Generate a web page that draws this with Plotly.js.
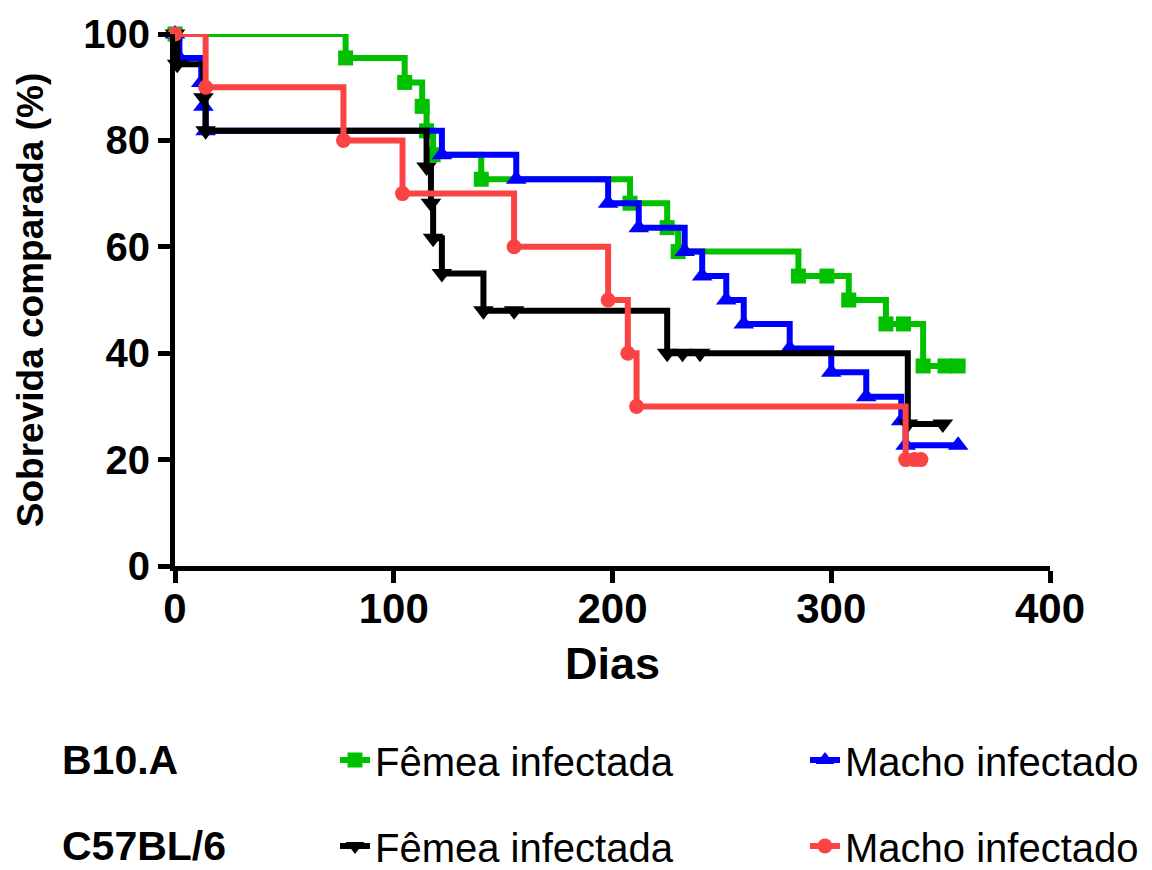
<!DOCTYPE html>
<html>
<head>
<meta charset="utf-8">
<script src="https://cdn.plot.ly/plotly-3.0.1.min.js"></script>
<style>html,body{margin:0;padding:0;background:#fff;}#chart{width:1152px;height:870px;}</style>
</head>
<body>
<div id="chart"></div>
<script>
// B10.A - Fêmea infectada
const greenDays = [0, 78, 105, 113, 115, 118, 140, 208, 225, 230, 285, 298, 308, 325, 333, 342, 352, 358];
const greenSurv = [100, 95.5, 90.9, 86.4, 81.8, 77.3, 72.7, 68.2, 63.6, 59.1, 54.5, 54.5, 50.0, 45.5, 45.5, 37.6, 37.6, 37.6];
// B10.A - Macho infectado
const blueDays = [0, 2, 12, 13, 14, 122, 156, 198, 212, 233, 241, 252, 260, 281, 300, 316, 332, 334, 358];
const blueSurv = [100, 95.5, 90.9, 86.4, 81.8, 77.3, 72.7, 68.2, 63.6, 59.1, 54.5, 50.0, 45.5, 40.9, 36.4, 31.8, 27.3, 22.7, 22.7];
// C57BL/6 - Fêmea infectada
const blackDays = [0, 1, 13, 14, 115, 117, 118, 122, 141, 155, 225, 232, 240, 335, 351];
const blackSurv = [100, 94.3, 88.0, 81.8, 75.0, 68.2, 61.6, 55.0, 48.0, 48.0, 40.0, 40.0, 40.0, 26.7, 26.7];
// C57BL/6 - Macho infectado
const redDays = [0, 14, 77, 104, 155, 198, 207, 211, 334, 338, 341];
const redSurv = [100, 90, 80, 70, 60, 50, 40, 30, 20, 20, 20];

const xTicks = [0, 100, 200, 300, 400];
const yTicks = [0, 20, 40, 60, 80, 100];
const groupLabels = ['B10.A', 'C57BL/6'];
const seriesNames = ['Fêmea infectada', 'Macho infectado', 'Fêmea infectada', 'Macho infectado'];

const FONT = 'Liberation Sans, Arial, sans-serif';

function kmTrace(x, y, name, color, symbol, size, legend) {
  return {
    type: 'scatter', mode: 'lines+markers', x: x, y: y, name: name,
    line: {shape: 'hv', color: color, width: 6},
    marker: {symbol: symbol, size: size, color: color},
    cliponaxis: false, legend: legend
  };
}

const data = [
  kmTrace(greenDays, greenSurv, seriesNames[0], '#00C000', 'square', 15, 'legend'),
  kmTrace(blueDays, blueSurv, seriesNames[1], '#0000FF', 'triangle-up', 18, 'legend2'),
  kmTrace(blackDays, blackSurv, seriesNames[2], '#000000', 'triangle-down', 18, 'legend3'),
  kmTrace(redDays, redSurv, seriesNames[3], '#FA4444', 'circle', 15, 'legend4')
];

// pixel helpers for placing legends / labels below the plot (plot area: x 175..1050, y 34..566)
const px = v => (v - 175) / 875;
const py = v => (566 - v) / 532;

function legendAt(xPix, yPix) {
  return {
    orientation: 'h', xanchor: 'left', yanchor: 'middle',
    x: px(xPix), y: py(yPix),
    font: {family: FONT, size: 40, color: '#000'},
    bgcolor: 'rgba(0,0,0,0)', itemsizing: 'trace'
  };
}

const ROW1 = 760, ROW2 = 846;

const layout = {
  width: 1152, height: 870,
  margin: {l: 175, r: 102, t: 34, b: 304, autoexpand: false},
  paper_bgcolor: '#fff', plot_bgcolor: '#fff',
  showlegend: true,
  xaxis: {
    range: [0, 400], tickvals: xTicks, ticktext: xTicks.map(String),
    showgrid: false, zeroline: false, showline: true, linecolor: '#000', linewidth: 5,
    ticks: 'outside', ticklen: 12, tickwidth: 5, tickcolor: '#000', ticklabelstandoff: -10,
    tickfont: {family: FONT, size: 42, color: '#000', weight: 'bold'},
    title: {text: 'Dias', font: {family: FONT, size: 45, color: '#000', weight: 'bold'}, standoff: 18}
  },
  yaxis: {
    range: [0, 100], tickvals: yTicks, ticktext: yTicks.map(String),
    showgrid: false, zeroline: false, showline: true, linecolor: '#000', linewidth: 5,
    ticks: 'outside', ticklen: 12, tickwidth: 5, tickcolor: '#000',
    tickfont: {family: FONT, size: 40, color: '#000', weight: 'bold'},
    title: {text: 'Sobrevida comparada (%)', font: {family: FONT, size: 37, color: '#000', weight: 'bold'}, standoff: 30}
  },
  legend: legendAt(335, ROW1),
  legend2: legendAt(805, ROW1),
  legend3: legendAt(335, ROW2),
  legend4: legendAt(805, ROW2),
  annotations: [
    {text: groupLabels[0], xref: 'paper', yref: 'paper', x: px(60), y: py(ROW1),
     xanchor: 'left', yanchor: 'middle', showarrow: false,
     font: {family: FONT, size: 41, color: '#000', weight: 'bold'}},
    {text: groupLabels[1], xref: 'paper', yref: 'paper', x: px(60), y: py(ROW2),
     xanchor: 'left', yanchor: 'middle', showarrow: false,
     font: {family: FONT, size: 41, color: '#000', weight: 'bold'}}
  ]
};

Plotly.newPlot('chart', data, layout, {displayModeBar: false, staticPlot: true});
</script>
</body>
</html>
